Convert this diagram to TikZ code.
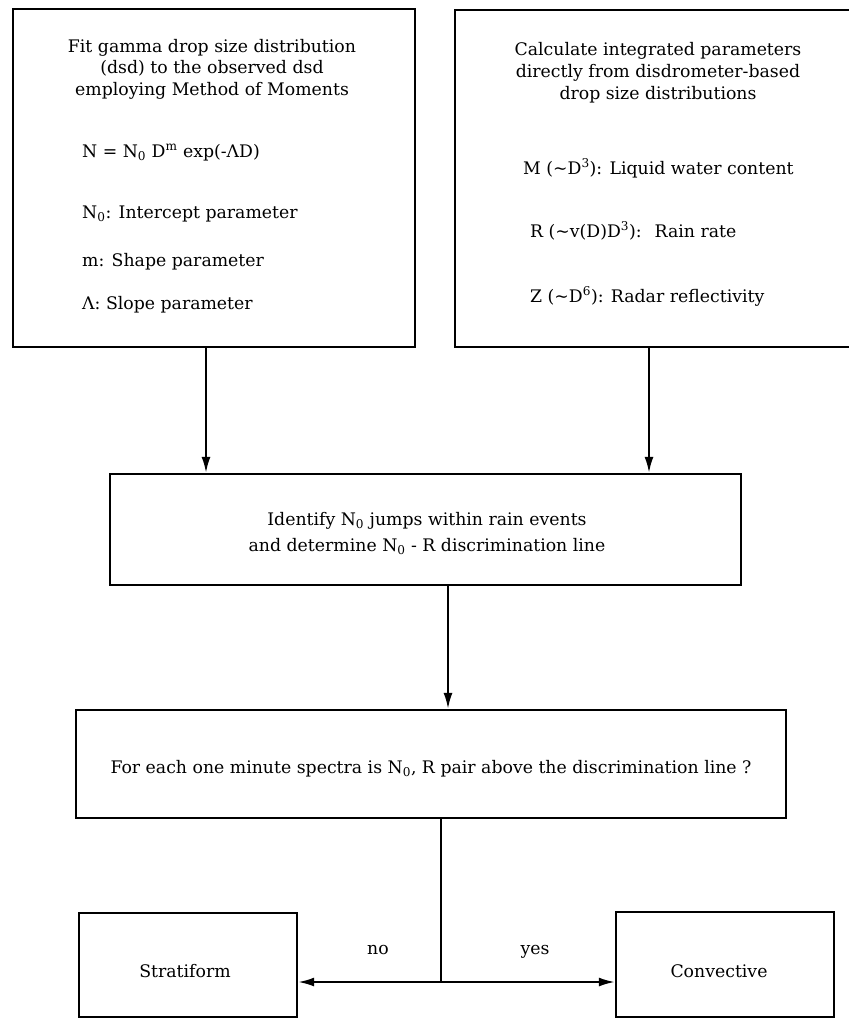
\documentclass[tikz,border=0pt]{standalone}
\usepackage{fontspec}
\setmainfont{DejaVu Serif}
\usetikzlibrary{arrows.meta}
\newcommand{\sbs}[1]{\textsubscript{#1}}
\newcommand{\sps}[1]{\textsuperscript{#1}}
\begin{document}
\begin{tikzpicture}[x=1pt,y=-1pt,
  box/.style={draw=black,line width=2.4pt,inner sep=0pt,fill=none},
  arr/.style={line width=2pt,-{Latex[length=16pt,width=9pt]}},
  ln/.style={line width=2pt},
  txt/.style={inner sep=0pt,font=\fontsize{17.3}{21}\selectfont}]
\useasboundingbox (0,0) rectangle (849,1018);
% boxes
\node[box,minimum width=402pt,minimum height=338pt] (box1) at (214,178) {};
\node[box,minimum width=406pt,minimum height=337pt] (box2) at (658,178.5) {};
\node[box,minimum width=631pt,minimum height=111pt] (box3) at (425.5,529.5) {};
\node[box,minimum width=710pt,minimum height=108pt] (box4) at (431,764) {};
\node[box,minimum width=218pt,minimum height=104pt] (strat) at (188,965) {};
\node[box,minimum width=218pt,minimum height=105pt] (conv) at (725,964.5) {};
% box1 text
\node[txt,anchor=base] (t1a) at (212,52) {Fit gamma drop size distribution};
\node[txt,anchor=base] (t1b) at (212,73.5) {(dsd) to the observed dsd};
\node[txt,anchor=base] (t1c) at (212,95) {employing Method of Moments};
\node[txt,anchor=base west] (t1d) at (82,157) {N = N\sbs{0} D\sps{m} exp(-ΛD)};
\node[txt,anchor=base west] (t1e) at (82,218) {N\sbs{0}: Intercept parameter};
\node[txt,anchor=base west] (t1f) at (82,266) {m: Shape parameter};
\node[txt,anchor=base west] (t1g) at (82,309) {Λ: Slope parameter};
% box2 text
\node[txt,anchor=base] (t2a) at (658,55) {Calculate integrated parameters};
\node[txt,anchor=base] (t2b) at (658,77) {directly from disdrometer-based};
\node[txt,anchor=base] (t2c) at (658,99) {drop size distributions};
\node[txt,anchor=base west] (t2d) at (523,174) {M (\textasciitilde D\sps{3}): Liquid water content};
\node[txt,anchor=base west] (t2e) at (530,237) {R (\textasciitilde v(D)D\sps{3}): \ Rain rate};
\node[txt,anchor=base west] (t2f) at (530,302) {Z (\textasciitilde D\sps{6}): Radar reflectivity};
% box3 text
\node[txt,anchor=base] (t3a) at (427,525) {Identify N\sbs{0} jumps within rain events};
\node[txt,anchor=base] (t3b) at (427,551) {and determine N\sbs{0} - R discrimination line};
% box4 text
\node[txt,anchor=base] (t4) at (431,773) {For each one minute spectra is N\sbs{0}, R pair above the discrimination line ?};
% outcome text
\node[txt,anchor=base] (t5) at (185,977) {Stratiform};
\node[txt,anchor=base] (t6) at (719,977) {Convective};
\node[txt,anchor=base] (no) at (378,954) {no};
\node[txt,anchor=base] (yes) at (535,954) {yes};
% connectors
\coordinate (c1) at (206,0);
\coordinate (c2) at (649,0);
\coordinate (c3) at (448,0);
\coordinate (c4) at (441,0);
\coordinate (split) at (441,982);
\draw[arr] (c1 |- box1.south) -- (c1 |- box3.north);
\draw[arr] (c2 |- box2.south) -- (c2 |- box3.north);
\draw[arr] (c3 |- box3.south) -- (c3 |- box4.north);
\draw[ln] (c4 |- box4.south) -- (split);
\draw[arr] (split) -- (split -| strat.east);
\draw[arr] (split) -- (split -| conv.west);
\end{tikzpicture}
\end{document}
